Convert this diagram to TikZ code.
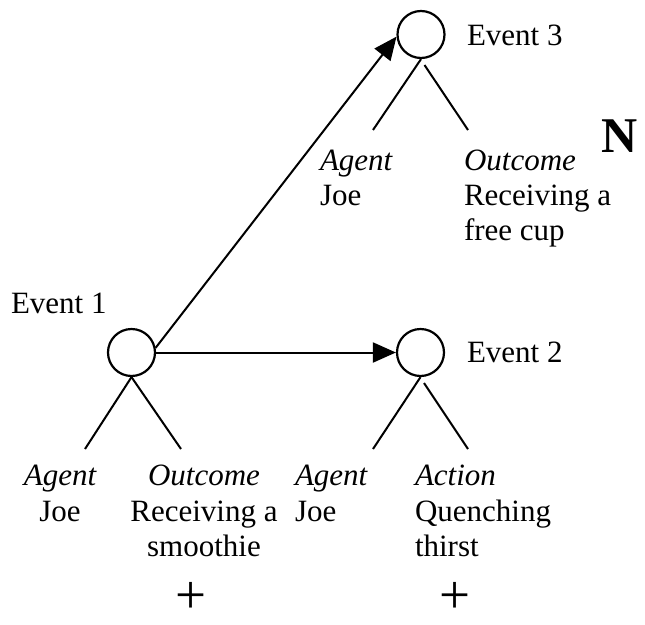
\documentclass[tikz,border=0pt]{standalone}
\usepackage{fontspec}
\setmainfont{Liberation Serif}
\usetikzlibrary{arrows.meta}
\begin{document}
\begin{tikzpicture}[x=1pt,y=-1pt,
  ev/.style={circle,draw,line width=2.2pt,minimum size=47pt,inner sep=0pt},
  txt/.style={font=\fontsize{31}{35}\selectfont,inner sep=0pt,outer sep=0pt},
  lw/.style={txt,anchor=base west},
  lc/.style={txt,anchor=base},
  arm/.style={line width=2pt},
  arr/.style={line width=2pt,-{Triangle[length=23pt,width=20pt]}},
  plus/.style={font=\fontsize{55}{55}\selectfont,inner sep=0pt}]
\useasboundingbox (0,0) rectangle (645,624);
% events
\node[ev] (e1) at (131.5,352.5) {};
\node[ev] (e2) at (420.5,352.5) {};
\node[ev] (e3) at (421,34.5) {};
% event labels
\node[lw] (l1) at (11,313) {Event 1};
\node[lw] (l2) at (467,362) {Event 2};
\node[lw] (l3) at (467,45) {Event 3};
% arrows
\draw[arr] (e1) -- (e2);
\draw[arr] (e1.11) -- (e3.185);
% arms
\coordinate (a1l) at (85,449);
\coordinate (a1r) at (181,449);
\coordinate (a2s) at (424,383);
\coordinate (a2l) at (373,449);
\coordinate (a2r) at (468,449);
\coordinate (a3s) at (424.5,65);
\coordinate (a3l) at (373,130);
\coordinate (a3r) at (468,130);
\draw[arm] (e1.south) -- (a1l);
\draw[arm] (e1.south) -- (a1r);
\draw[arm] (e2.south) -- (a2l);
\draw[arm] (a2s) -- (a2r);
\draw[arm] (e3.south) -- (a3l);
\draw[arm] (a3s) -- (a3r);
% event 3 roles
\node[lw] (t3a1) at (320,170) {\itshape Agent};
\node[lw] (t3a2) at (320,205) {Joe};
\node[lw] (t3o1) at (464,170) {\itshape Outcome};
\node[lw] (t3o2) at (464,205) {Receiving a};
\node[lw] (t3o3) at (464,240) {free cup};
\node[anchor=base west,inner sep=0pt,font=\fontsize{50}{54}\selectfont\bfseries] (nn) at (601,152) {N};
% event 1 roles
\node[lc] (t1a1) at (60,485) {\itshape Agent};
\node[lc] (t1a2) at (60,521) {Joe};
\node[lc] (t1o1) at (204,485) {\itshape Outcome};
\node[lc] (t1o2) at (204,521) {Receiving a};
\node[lc] (t1o3) at (204,556) {smoothie};
% event 2 roles
\node[lw] (t2a1) at (295,485) {\itshape Agent};
\node[lw] (t2a2) at (295,521) {Joe};
\node[lw] (t2c1) at (415,485) {\itshape Action};
\node[lw] (t2c2) at (415,521) {Quenching};
\node[lw] (t2c3) at (415,556) {thirst};
% plus signs
\node[plus] (p1) at (191,598) {+};
\node[plus] (p2) at (455,598) {+};
\end{tikzpicture}
\end{document}
